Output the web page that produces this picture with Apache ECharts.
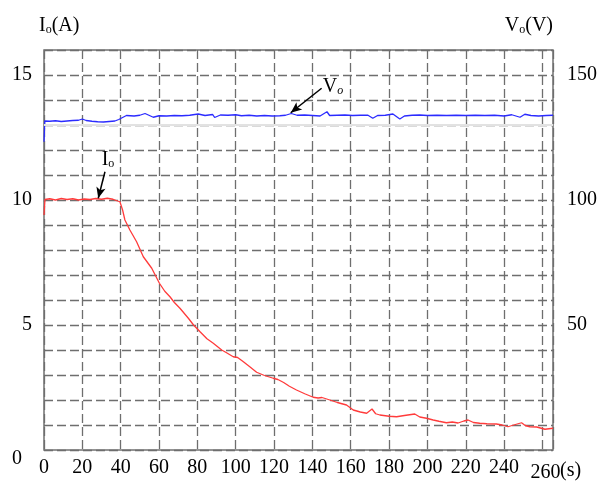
<!DOCTYPE html>
<html>
<head>
<meta charset="utf-8">
<script src="https://cdn.jsdelivr.net/npm/echarts@6/dist/echarts.min.js"></script>
<style>html,body{margin:0;padding:0;background:#fff;}#c{width:600px;height:486px;}</style>
</head>
<body>
<div id="c"></div>
<script>
// Output current Io (A), time in s
var ioTime = [0,0.5,3,6,9,12,15,18,21,24,27,30,33,36,38,39.6,41,42.2,44.8,48.3,51.8,56.2,60.2,63,65.7,68,70.9,75.3,78,81.4,85,88.3,92.7,95,98.7,101,104,107,110.9,115,119.6,122,125,128,131.7,136,140.4,143,145,149.1,153,157.8,161.3,165,168.3,171.1,173,175.2,180,183.9,188,193.4,196,199.5,203,206,209.9,213,216,219,221.2,224,227.3,231,236,239,242,245,249.1,251,253.4,257,261.3,265.5];
var ioValues = [9.4,10.02,10.05,10.0,10.06,10.02,10.05,10.0,10.04,10.02,10.06,10.03,10.07,10.03,9.97,9.93,9.6,9.2,8.8,8.33,7.73,7.27,6.67,6.35,6.13,5.9,5.67,5.27,5.0,4.73,4.45,4.27,4.0,3.9,3.73,3.7,3.53,3.35,3.11,2.98,2.87,2.82,2.7,2.55,2.4,2.25,2.11,2.08,2.1,2.0,1.9,1.8,1.6,1.52,1.47,1.64,1.45,1.4,1.35,1.33,1.38,1.44,1.32,1.27,1.2,1.15,1.09,1.12,1.08,1.16,1.2,1.1,1.07,1.05,1.04,1.0,0.93,1.0,1.09,0.98,0.93,0.92,0.83,0.87];
// Output voltage Vo (V)
var voTime = [0,0.4,3,6,9,12,15,18,20,22,25,28,31,34,37,39,40.5,43,47,50,52.7,55,57,60,64,68,72,76,80.4,84,88,89,92,96,100,103,107,111,115,119,123,126,129,132,136,140,144,147.6,149,153,157,161,165,169,171.5,174,178,182,185.6,188,192,196,200,205,210,215,220,225,230,235,240,244,248.3,250.8,254,258,262,265.5];
var voValues = [123.3,131.6,131.5,131.7,131.4,131.6,131.8,131.9,132.4,131.8,131.5,131.3,131.2,131.4,131.6,132.2,132.8,133.8,133.6,133.9,134.6,133.8,133.1,133.7,133.6,133.8,133.7,133.9,134.4,133.8,134.2,133.0,134.0,133.9,134.1,133.7,133.9,133.6,133.8,133.6,133.7,133.9,134.6,133.9,134.0,133.8,133.6,135.3,133.8,133.9,134.0,133.8,133.9,133.9,132.7,133.8,133.9,134.4,132.4,133.6,133.9,134.0,133.8,133.9,133.8,133.9,133.8,133.9,133.8,133.9,133.6,134.1,133.1,134.3,133.8,133.6,133.8,133.9];
// Axis ranges and labelled ticks
var xMax = 265.5, xStep = 20, xLabelMax = 260;
var ioMax = 16, ioStep = 1, ioLabelStep = 5;
var voMax = 160, voStep = 10, voLabels = [50, 100, 150];
// Annotation anchors [time, value]
var ioArrow = [[31.8, 11.13], [28.3, 10.07]];
var ioText = [33.4, 11.6];
var voArrow = [[144.8, 144.7], [128.7, 134.9]];
var voText = [150.7, 145.2];
var faintLevel = 13;

function pairs(t, v) { return t.map(function (x, i) { return [x, v[i]]; }); }

var FONT = "'Liberation Serif','Times New Roman',serif";
var gridLine = { show: true, lineStyle: { color: '#6e6e6e', width: 1.3, type: [9, 4] } };
var subRich = {
  m: { fontFamily: FONT, fontSize: 20, fontWeight: 'normal', color: '#000' },
  s: { fontFamily: FONT, fontSize: 12, fontWeight: 'normal', color: '#000', verticalAlign: 'bottom' },
  si: { fontFamily: FONT, fontSize: 12, fontWeight: 'normal', fontStyle: 'italic', color: '#000', verticalAlign: 'bottom' }
};
var titleText = { fontFamily: FONT, fontSize: 20, fontWeight: 'normal', color: '#000', rich: subRich };

var chart = echarts.init(document.getElementById('c'), null, { renderer: 'canvas' });
chart.setOption({
  animation: false,
  backgroundColor: '#fff',
  textStyle: { fontFamily: FONT, color: '#000' },
  title: [
    { text: '{m|I}{s|o}{m|(A)}', left: 39, top: 16, padding: 0, textAlign: 'left', textStyle: titleText },
    { text: '{m|V}{s|o}{m|(V)}', right: 47, top: 16, padding: 0, textStyle: titleText }
  ],
  grid: { left: 44, right: 47, top: 50, bottom: 36, show: true, borderColor: '#707070', borderWidth: 1.5, backgroundColor: 'transparent' },
  xAxis: {
    type: 'value', min: 0, max: xMax, interval: xStep,
    name: '(s)', nameLocation: 'end', nameGap: 7, nameMoveOverlap: false,
    nameTextStyle: { fontFamily: FONT, fontSize: 20, color: '#000', align: 'left', verticalAlign: 'top', padding: [11, 0, 0, 0] },
    axisLine: { show: false }, axisTick: { show: false },
    axisLabel: {
      fontFamily: FONT, fontSize: 20, color: '#000', margin: 8, showMaxLabel: true,
      formatter: function (v) {
        if (Math.abs(v % xStep) > 1e-6 || v > xLabelMax) return '';
        if (v === xLabelMax) return '{e|' + v + '}';
        return String(v);
      },
      rich: { e: { fontFamily: FONT, fontSize: 20, padding: [5, 0, 0, 6] } }
    },
    splitLine: gridLine
  },
  yAxis: [{
    type: 'value', min: 0, max: ioMax, interval: ioStep,
    axisLine: { show: false }, axisTick: { show: false },
    axisLabel: {
      fontFamily: FONT, fontSize: 20, color: '#000', margin: 12,
      formatter: function (v) {
        if (v % ioLabelStep !== 0) return '';
        if (v === 0) return '{z|0}';
        return String(v);
      },
      rich: { z: { fontFamily: FONT, fontSize: 20, padding: [18, 10, 0, 0] } }
    },
    splitLine: gridLine
  }, {
    type: 'value', min: 0, max: voMax, interval: voStep, position: 'right',
    axisLine: { show: false }, axisTick: { show: false },
    axisLabel: {
      fontFamily: FONT, fontSize: 20, color: '#000', margin: 14,
      formatter: function (v) { return voLabels.indexOf(v) >= 0 ? String(v) : ''; }
    },
    splitLine: { show: false }
  }],
  series: [{
    name: 'Io', type: 'line', yAxisIndex: 0, showSymbol: false, symbol: 'none',
    data: pairs(ioTime, ioValues),
    lineStyle: { color: '#ff3b3b', width: 1.3 },
    z: 3,
    markLine: {
      silent: true, animation: false, symbol: ['none', 'arrow'], symbolSize: [7, 11],
      label: { show: false },
      lineStyle: { color: '#000', width: 1.5, type: 'solid' },
      data: [
        [{ coord: ioArrow[0] }, { coord: ioArrow[1] }],
        [{ coord: [0, faintLevel], symbol: 'none', lineStyle: { color: '#e2e2e2', width: 2, type: 'solid' } },
         { coord: [xMax, faintLevel], symbol: 'none', lineStyle: { color: '#e2e2e2', width: 2, type: 'solid' } }]
      ]
    },
    markPoint: {
      silent: true, symbol: 'circle', symbolSize: 0,
      label: { show: true, position: 'inside', formatter: '{m|I}{s|o}', rich: subRich },
      data: [{ coord: ioText }]
    }
  }, {
    name: 'Vo', type: 'line', yAxisIndex: 1, showSymbol: false, symbol: 'none',
    data: pairs(voTime, voValues),
    lineStyle: { color: '#2b2bff', width: 1.3 },
    z: 4,
    markLine: {
      silent: true, animation: false, symbol: ['none', 'arrow'], symbolSize: [7, 11],
      label: { show: false },
      lineStyle: { color: '#000', width: 1.5, type: 'solid' },
      data: [[{ coord: voArrow[0] }, { coord: voArrow[1] }]]
    },
    markPoint: {
      silent: true, symbol: 'circle', symbolSize: 0,
      label: { show: true, position: 'inside', formatter: '{m|V}{si|o}', rich: subRich },
      data: [{ coord: voText }]
    }
  }]
});
</script>
</body>
</html>
